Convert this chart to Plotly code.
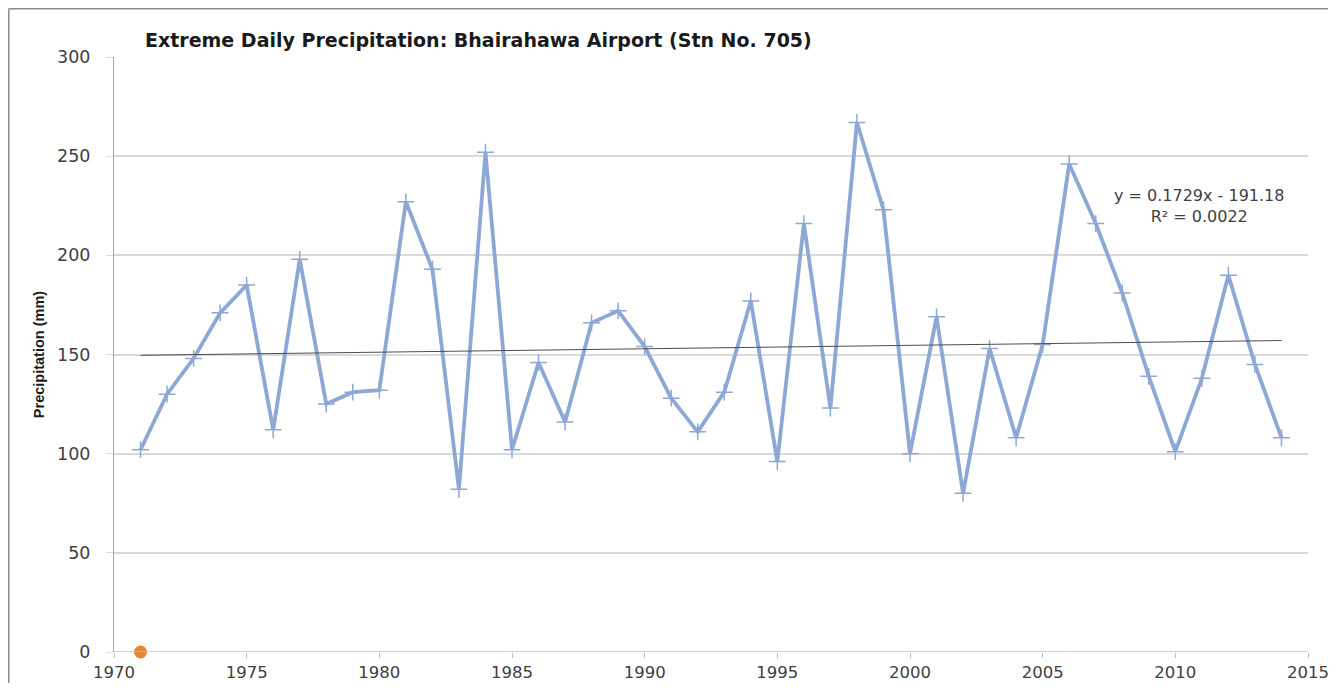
import plotly.graph_objects as go

years = list(range(1971, 2015))
precip = [102, 130, 148, 171, 185, 112, 198, 125, 131, 132,
          227, 193, 82, 252, 102, 146, 116, 166, 172, 154,
          128, 111, 131, 177, 96, 216, 123, 267, 223, 100,
          169, 80, 153, 108, 155, 246, 216, 181, 139, 101,
          138, 190, 145, 108]

trend_slope = 0.1729
trend_intercept = -191.18
trend_years = [1971, 2014]
trend_vals = [trend_slope * y + trend_intercept for y in trend_years]

extra_x = [1971]
extra_y = [0]

x_ticks = [1970, 1975, 1980, 1985, 1990, 1995, 2000, 2005, 2010, 2015]
y_ticks = [0, 50, 100, 150, 200, 250, 300]

title_text = "Extreme Daily Precipitation: Bhairahawa Airport (Stn No. 705)"
y_title = "Precipitation (mm)"
eq_text = "y = 0.1729x - 191.18<br>R² = 0.0022"

W, H = 1328, 675
L, R, T, B = 106, 28, 49, 31
PW, PH = W - L - R, H - T - B

fig = go.Figure()
fig.add_trace(go.Scatter(
    x=years, y=precip, mode="lines+markers",
    line=dict(color="#8DA8D4", width=3.8),
    marker=dict(symbol="cross-thin", size=12, line=dict(color="#8DA8D4", width=1.5)),
    showlegend=False, cliponaxis=False))
fig.add_trace(go.Scatter(
    x=trend_years, y=trend_vals, mode="lines",
    line=dict(color="#4D4D4D", width=1), showlegend=False))
fig.add_trace(go.Scatter(
    x=extra_x, y=extra_y, mode="markers",
    marker=dict(color="#E3873A", size=13, line=dict(width=0)),
    showlegend=False, cliponaxis=False))

fig.update_layout(
    width=W, height=H,
    margin=dict(l=L, r=R, t=T, b=B),
    paper_bgcolor="white", plot_bgcolor="white",
    font=dict(family="DejaVu Sans", color="#404040"),
    title=dict(text="<b>" + title_text + "</b>", x=137 / W, xanchor="left",
               y=1 - 32 / H, yanchor="middle",
               font=dict(size=19, color="#1a1a1a", family="DejaVu Sans")),
    xaxis=dict(range=[1970, 2015], tickvals=x_ticks, ticktext=[str(t) for t in x_ticks],
               showgrid=False, zeroline=False, showline=False, automargin=False,
               ticks="outside", ticklen=5, tickcolor="#BFBFBF",
               ticklabelstandoff=0, ticklabeloverflow="allow",
               tickfont=dict(size=16.5, color="#404040", family="DejaVu Sans")),
    yaxis=dict(range=[0, 300], tickvals=y_ticks,
               showgrid=True, gridcolor="#D9D9D9", gridwidth=1.5,
               zeroline=False, showline=True, linecolor="#A6A6A6", linewidth=1,
               ticks="outside", ticklen=7, tickcolor="#D9D9D9",
               ticklabelstandoff=12,
               tickfont=dict(size=17.5, color="#404040", family="DejaVu Sans"),
               title=dict(text="<b>" + y_title + "</b>", standoff=9,
                          font=dict(size=14.5, family="Liberation Sans", color="#1a1a1a"))),
    annotations=[dict(text=eq_text, x=2010.9, y=225, xref="x", yref="y",
                      showarrow=False, align="center", xanchor="center", yanchor="middle",
                      font=dict(size=16, color="#404040", family="DejaVu Sans"))],
    shapes=[
        dict(type="line", xref="x", yref="y", x0=1970, x1=2015, y0=0, y1=0,
             line=dict(color="#BFBFBF", width=1.5)),
        dict(type="line", xref="paper", yref="paper",
             x0=(0.75 - L) / PW, x1=(0.75 - L) / PW, y0=-B / PH, y1=(PH + T - 0.75) / PH,
             line=dict(color="#8C8C8C", width=1.5)),
        dict(type="line", xref="paper", yref="paper",
             x0=(0.75 - L) / PW, x1=(W - L) / PW, y0=(PH + T - 0.75) / PH, y1=(PH + T - 0.75) / PH,
             line=dict(color="#8C8C8C", width=1.5)),
    ],
)
fig.write_html("out.html")
